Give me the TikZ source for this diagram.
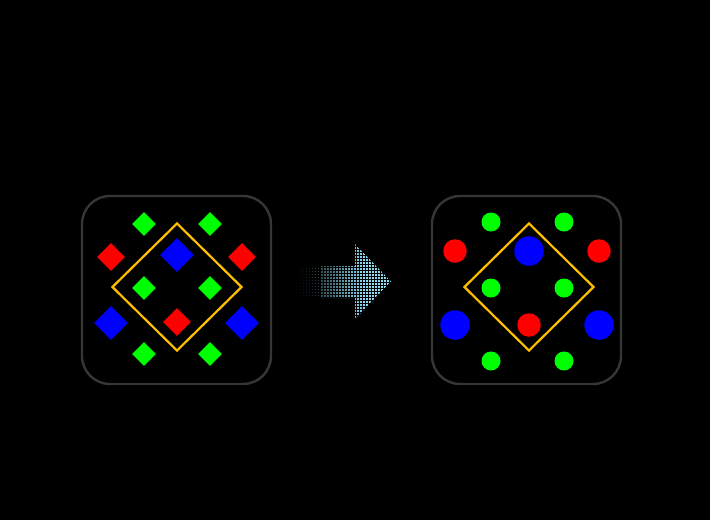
\documentclass[tikz,border=0pt]{standalone}
\usetikzlibrary{shapes.geometric}
\definecolor{gr}{HTML}{00FF00}
\definecolor{rd}{HTML}{FF0000}
\definecolor{bl}{HTML}{0000FF}
\definecolor{gold}{HTML}{FFC000}
\definecolor{frame}{HTML}{363636}
\definecolor{dot}{HTML}{8EDCF4}
\tikzset{
  panel/.style={draw=frame, line width=2.4pt, rounded corners=28pt, minimum width=189pt, minimum height=188pt, inner sep=0pt},
  gold diamond/.style={diamond, draw=gold, line width=2.2pt, minimum width=130pt, minimum height=128pt, inner sep=0pt, aspect=1},
  dm/.style={diamond, inner sep=0pt, aspect=1, minimum width=#1, minimum height=#1},
  gdm/.style={dm=24pt, fill=gr},
  rdm/.style={dm=28pt, fill=rd},
  bdm/.style={dm=34pt, fill=bl},
  ci/.style={circle, inner sep=0pt, minimum size=#1},
  gci/.style={ci=19pt, fill=gr},
  rci/.style={ci=23.5pt, fill=rd},
  bci/.style={ci=29.5pt, fill=bl}
}
\begin{document}
\begin{tikzpicture}[x=1pt,y=-1pt]
\fill[black] (0,0) rectangle (710,520);
\useasboundingbox (0,0) rectangle (710,520);
% left panel
\node[panel] (lp) at (176.5,290) {};
\node[gold diamond] (ly) at (177,287) {};
\node[gdm] (l1) at (144,224) {};
\node[gdm] (l2) at (210,224) {};
\node[rdm] (l3) at (111,257) {};
\node[rdm] (l4) at (242,257) {};
\node[bdm] (l5) at (177,255) {};
\node[gdm] (l6) at (144,288) {};
\node[gdm] (l7) at (210,288) {};
\node[rdm] (l8) at (177,322) {};
\node[bdm] (l9) at (111,323) {};
\node[bdm] (l10) at (242,323) {};
\node[gdm] (l11) at (144,354) {};
\node[gdm] (l12) at (210,354) {};
% right panel
\node[panel] (rp) at (526.5,290) {};
\node[gold diamond] (ry) at (529,287) {};
\node[gci] (r1) at (491,222) {};
\node[gci] (r2) at (564,222) {};
\node[rci] (r3) at (455,251) {};
\node[rci] (r4) at (599,251) {};
\node[bci] (r5) at (529,251) {};
\node[gci] (r6) at (491,288) {};
\node[gci] (r7) at (564,288) {};
\node[rci] (r8) at (529,325) {};
\node[bci] (r9) at (455,325) {};
\node[bci] (r10) at (599,325) {};
\node[gci] (r11) at (491,361) {};
\node[gci] (r12) at (564,361) {};
% halftone arrow
\begin{scope}
\clip (300,266) -- (355,266) -- (355,244) -- (391,281.5) -- (355,319) -- (355,298) -- (300,298) -- cycle;
\foreach \i in {0,...,31}{
  \pgfmathsetmacro{\op}{min(1,0.04+\i/22)}
  \pgfmathsetmacro{\sz}{min(2.2,1.1+\i/16)}
  \foreach \j in {0,...,25}{
    \fill[dot, opacity=\op] (300+3*\i,244+3*\j) rectangle +(\sz,\sz);
  }
}
\end{scope}
\end{tikzpicture}
\end{document}
